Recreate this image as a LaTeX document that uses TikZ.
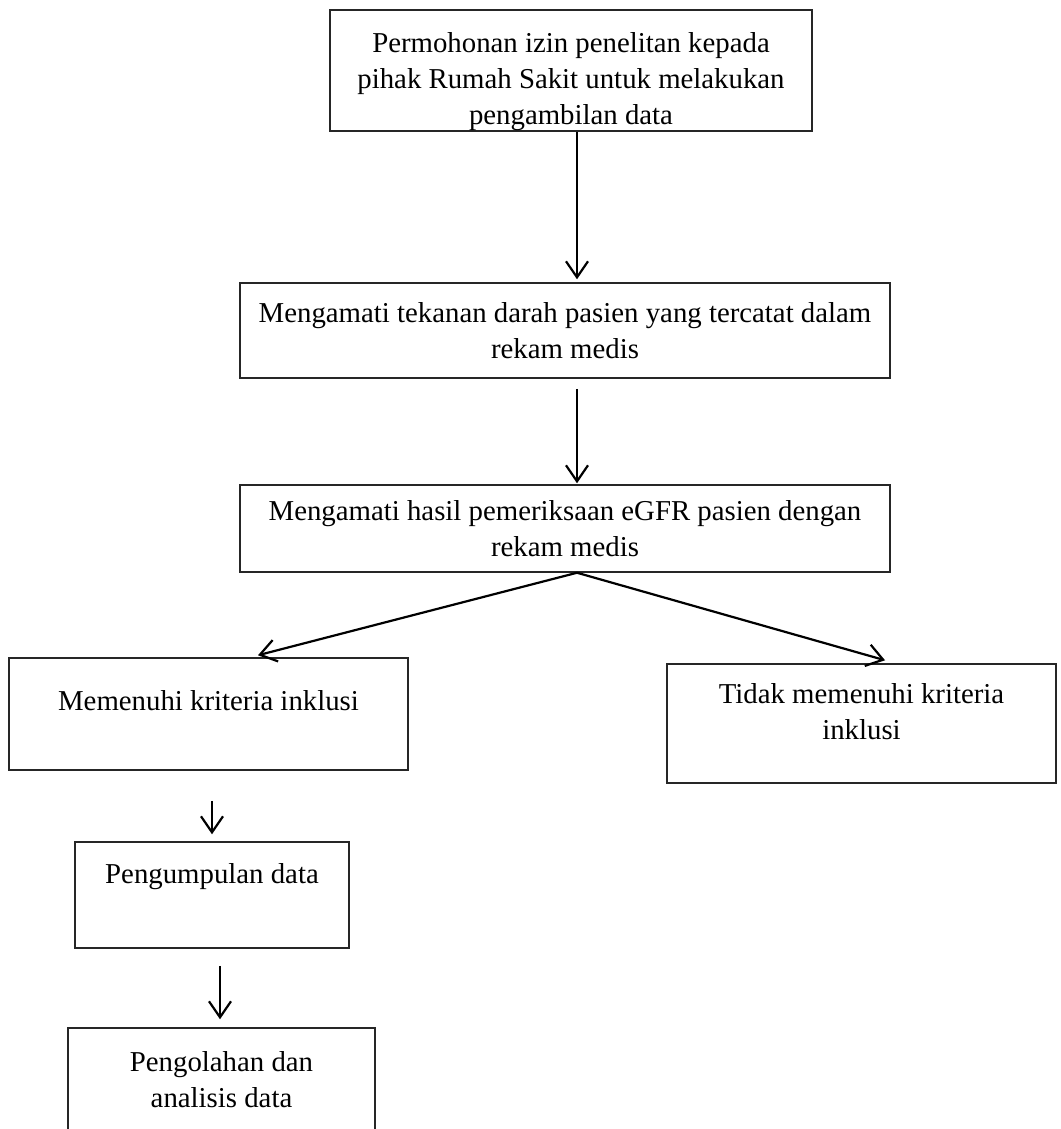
\documentclass[tikz,border=0pt]{standalone}
\usepackage{fontspec}
\setmainfont{Liberation Serif}
\usepackage{tikz}
\usetikzlibrary{arrows.meta, positioning}
\tikzstyle{kotak} = [rectangle, draw=black!85, line width=0.75pt, align=center, inner sep=0pt, font=\fontsize{14.4}{18}\selectfont]
\tikzstyle{arrow} = [line width=1.1pt, -{Straight Barb[length=8pt,width=11pt]}]

\begin{document}
\begin{tikzpicture}[x=0.5pt, y=-0.5pt]
        \useasboundingbox (0,0) rectangle (1060,1129);

		\node (izin) [kotak, minimum width=241pt, minimum height=60.5pt, text height=57.5pt] at (571,70.5) {Permohonan izin penelitan kepada\\pihak Rumah Sakit untuk melakukan\\pengambilan data};
		\node (tekanan) [kotak, minimum width=325pt, minimum height=47.5pt] at (565,330.5) {Mengamati tekanan darah pasien yang tercatat dalam\\rekam medis};
		\node (hasil) [kotak, minimum width=325pt, minimum height=43.5pt] at (565,528.5) {Mengamati hasil pemeriksaan eGFR pasien dengan\\rekam medis};
		\node (inklusi) [kotak, minimum width=199.5pt, minimum height=56pt, text depth=13pt] at (208.5,714) {Memenuhi kriteria inklusi};
		\node (tidak) [kotak, minimum width=194.5pt, minimum height=59.5pt, text depth=12pt] at (861.5,723.5) {Tidak memenuhi kriteria\\inklusi};
		\node (kumpul) [kotak, minimum width=137pt, minimum height=53pt, text depth=22pt] at (212,895) {Pengumpulan data};
		\node (olah) [kotak, minimum width=153.5pt, minimum height=60pt, text depth=9pt] at (221.5,1088) {Pengolahan dan\\analisis data};
		\coordinate (jalur) at (577,0);
		\coordinate (cabang) at (hasil.south -| jalur);

		% Draw edges
		\draw [arrow] (izin.south -| jalur) -- ([yshift=1.5pt]tekanan.north -| jalur);
		\draw [arrow] ([yshift=-5pt]tekanan.south -| jalur) -- ([yshift=0.5pt]hasil.north -| jalur);
		\draw [arrow] (cabang) -- ([xshift=24.75pt,yshift=1pt]inklusi.north);
		\draw [arrow] (cabang) -- ([xshift=11.75pt,yshift=1.5pt]tidak.north);
		\draw [arrow] ([yshift=-15pt]inklusi.south -| kumpul) -- ([yshift=3.5pt]kumpul.north);
		\draw [arrow] ([xshift=4pt,yshift=-8.5pt]kumpul.south) -- ([xshift=4pt,yshift=4pt]kumpul.south |- olah.north);

\end{tikzpicture}
\end{document}
